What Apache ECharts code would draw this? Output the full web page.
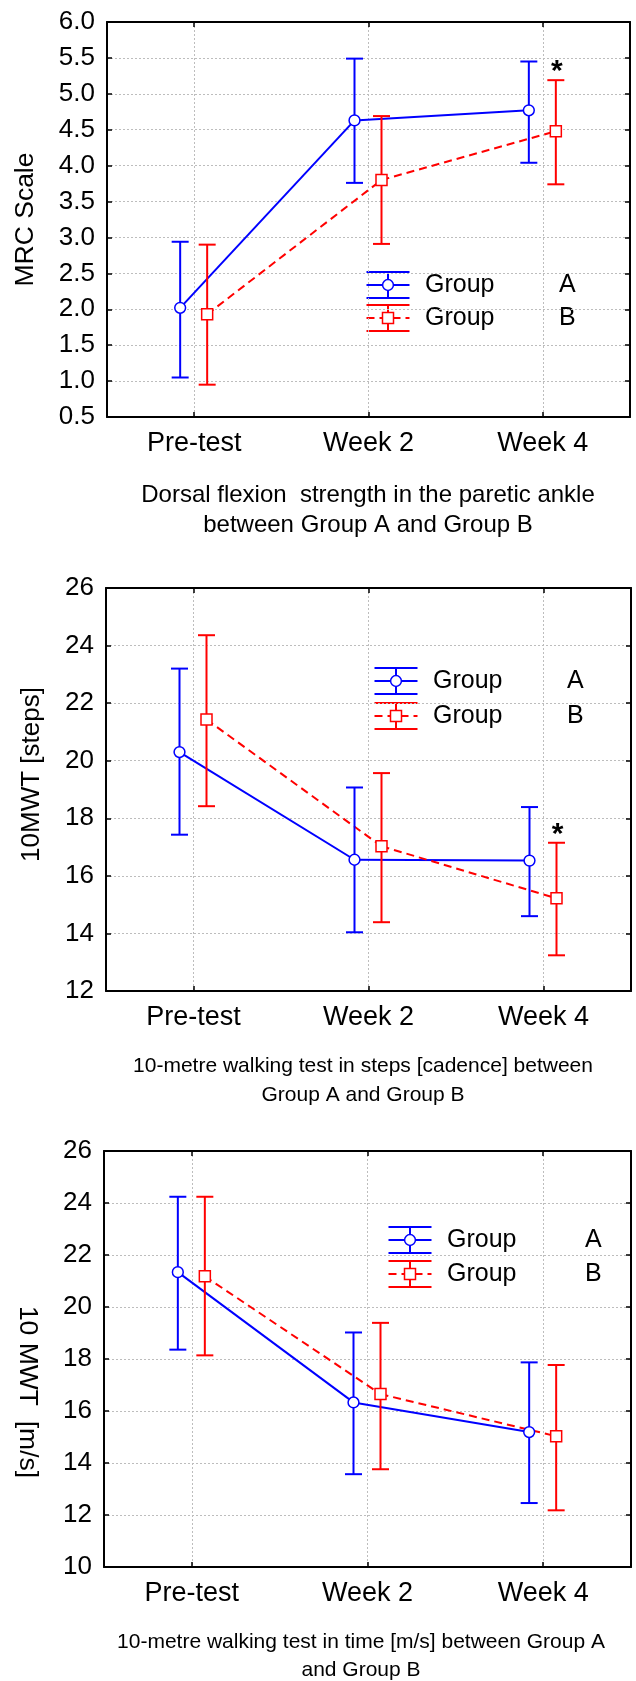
<!DOCTYPE html>
<html>
<head>
<meta charset="utf-8">
<script src="https://cdn.jsdelivr.net/npm/echarts@6/dist/echarts.min.js"></script>
<style>
    html, body { margin: 0; padding: 0; background: #fff; }
    #chart { width: 636px; height: 1681px; }
</style>
</head>
<body>
<div id="chart"></div>
<script>
// Categories shared by the three panels
const categories = ['Pre-test', 'Week 2', 'Week 4'];

// Panel 1 - dorsal flexion strength (MRC scale)
const mrcMeanA = [2.02, 4.63, 4.77];
const mrcLowA = [1.05, 3.76, 4.04];
const mrcHighA = [2.94, 5.49, 5.45];
const mrcMeanB = [1.93, 3.80, 4.48];
const mrcLowB = [0.95, 2.91, 3.74];
const mrcHighB = [2.90, 4.69, 5.19];
const mrcSignif = ['', '', '*'];

// Panel 2 - 10MWT in steps
const stepsMeanA = [20.30, 16.56, 16.53];
const stepsLowA = [17.43, 14.04, 14.60];
const stepsHighA = [23.20, 19.07, 18.39];
const stepsMeanB = [21.43, 17.03, 15.22];
const stepsLowB = [18.42, 14.39, 13.24];
const stepsHighB = [24.36, 19.57, 17.15];
const stepsSignif = ['', '', '*'];

// Panel 3 - 10MWT in time
const timeMeanA = [21.34, 16.33, 15.19];
const timeLowA = [18.36, 13.57, 12.46];
const timeHighA = [24.24, 19.02, 17.87];
const timeMeanB = [21.18, 16.65, 15.03];
const timeLowB = [18.14, 13.76, 12.18];
const timeHighB = [24.24, 19.39, 17.77];
const timeSignif = ['', '', ''];

const FONT = '"Liberation Sans", Arial, sans-serif';
const BLUE = '#0000ff';
const RED = '#ff0000';

// Drawing style of each group
const styleA = {color: BLUE, offset: -14, dash: null, marker: 'circle'};
const styleB = {color: RED, offset: 13, dash: [8, 5], marker: 'square'};

// Layout of each panel (pixels)
const panels = [
    {
        grid: {left: 107, top: 22, width: 523, height: 395},
        y: {min: 0.5, max: 6, interval: 0.5, decimals: 1},
        name: 'MRC Scale', nameSize: 26.5, nameGap: 68, nameRotate: 90, namePadding: 0,
        title: 'Dorsal flexion  strength in the paretic ankle\nbetween Group A and Group B',
        titleX: 368, titleY: 480, titleSize: 24, titleLine: 30,
        legend: {x: 388, y: 285, dy: 33, textX: 425, letterX: 559},
        A: [mrcMeanA, mrcLowA, mrcHighA], B: [mrcMeanB, mrcLowB, mrcHighB], signif: mrcSignif
    },
    {
        grid: {left: 106, top: 588, width: 525, height: 403},
        y: {min: 12, max: 26, interval: 2, decimals: 0},
        name: '10MWT [steps]', nameSize: 26, nameGap: 61, nameRotate: 90, namePadding: 30,
        title: '10-metre walking test in steps [cadence] between\nGroup A and Group B',
        titleX: 363, titleY: 1052, titleSize: 21, titleLine: 29,
        legend: {x: 396, y: 681, dy: 35, textX: 433, letterX: 567},
        A: [stepsMeanA, stepsLowA, stepsHighA], B: [stepsMeanB, stepsLowB, stepsHighB], signif: stepsSignif
    },
    {
        grid: {left: 104, top: 1151, width: 527, height: 416},
        y: {min: 10, max: 26, interval: 2, decimals: 0},
        name: '10 MWT  [m/s]', nameSize: 26.5, nameGap: 63, nameRotate: -90, namePadding: 66,
        title: '10-metre walking test in time [m/s] between Group A\nand Group B',
        titleX: 361, titleY: 1628, titleSize: 21, titleLine: 28,
        legend: {x: 410, y: 1240, dy: 34, textX: 447, letterX: 585},
        A: [timeMeanA, timeLowA, timeHighA], B: [timeMeanB, timeLowB, timeHighB], signif: timeSignif
    }
];

// Draws the marker of a group around a point
const markerShape = (style, cx, cy) => {
    if (style.marker === 'circle') {
        return {
            type: 'circle', z2: 5,
            shape: {cx: cx, cy: cy, r: 5.4},
            style: {fill: '#fff', stroke: style.color, lineWidth: 1.5}
        };
    }
    return {
        type: 'rect', z2: 5,
        shape: {x: cx - 5.5, y: cy - 5.5, width: 11, height: 11},
        style: {fill: '#fff', stroke: style.color, lineWidth: 1.5}
    };
};

// Custom series: means with error bars, joined by a line
const groupSeries = (index, values, style, signif) => {
    const [means, lows, highs] = values;
    return {
        type: 'custom',
        xAxisIndex: index * 2,
        yAxisIndex: index * 2,
        data: means.map((m, i) => [i, m, lows[i], highs[i]]),
        encode: {x: 0, y: [1, 2, 3]},
        renderItem: (params, api) => {
            const i = api.value(0);
            const p = api.coord([i, api.value(1)]);
            const lo = api.coord([i, api.value(2)]);
            const hi = api.coord([i, api.value(3)]);
            const x = p[0] + style.offset;
            const bar = {stroke: style.color, lineWidth: 2};
            const children = [];
            // Segment from the previous mean
            if (i > 0) {
                const q = api.coord([i - 1, means[i - 1]]);
                children.push({
                    type: 'line', z2: 1,
                    shape: {x1: q[0] + style.offset, y1: q[1], x2: x, y2: p[1]},
                    style: {stroke: style.color, lineWidth: 2, lineDash: style.dash}
                });
            }
            // Error bar
            children.push({type: 'line', z2: 3, shape: {x1: x, y1: hi[1], x2: x, y2: lo[1]}, style: bar});
            children.push({type: 'line', z2: 3, shape: {x1: x - 8.5, y1: hi[1], x2: x + 8.5, y2: hi[1]}, style: bar});
            children.push({type: 'line', z2: 3, shape: {x1: x - 8.5, y1: lo[1], x2: x + 8.5, y2: lo[1]}, style: bar});
            // Mean
            children.push(markerShape(style, x, p[1]));
            // Significance mark
            if (signif && signif[i]) {
                children.push({
                    type: 'text', z2: 6,
                    style: {
                        text: signif[i], x: x + 1, y: hi[1] - 8,
                        align: 'center', verticalAlign: 'middle',
                        fontSize: 30, fontWeight: 'bold', fontFamily: FONT, fill: '#000'
                    }
                });
            }
            return {type: 'group', children: children};
        }
    };
};

// Legend entry: error bar icon + label
const legendEntry = (style, cx, cy, textX, letterX, letter) => {
    const bar = {stroke: style.color, lineWidth: 2};
    return [
        {type: 'line', shape: {x1: cx - 21.5, y1: cy - 13, x2: cx + 21.5, y2: cy - 13}, style: bar},
        {type: 'line', shape: {x1: cx - 21.5, y1: cy + 13, x2: cx + 21.5, y2: cy + 13}, style: bar},
        {type: 'line', shape: {x1: cx, y1: cy - 13, x2: cx, y2: cy + 13}, style: bar},
        {type: 'line', shape: {x1: cx - 21.5, y1: cy, x2: cx + 21.5, y2: cy},
            style: {stroke: style.color, lineWidth: 2, lineDash: style.dash}},
        Object.assign(markerShape(style, cx, cy), {z: 101}),
        {type: 'text', style: {text: 'Group', x: textX, y: cy, verticalAlign: 'middle', fontSize: 25, fontFamily: FONT, fill: '#000'}},
        {type: 'text', style: {text: letter, x: letterX, y: cy, verticalAlign: 'middle', fontSize: 25, fontFamily: FONT, fill: '#000'}}
    ];
};

const grids = [];
const xAxes = [];
const yAxes = [];
const series = [];
const titles = [];
let graphics = [];

const frameLine = {show: true, onZero: false, lineStyle: {color: '#000', width: 2}};
const innerTick = {show: true, inside: true, length: 5, alignWithLabel: true, lineStyle: {color: '#000', width: 1.5}};
const gridLine = {show: true, alignWithLabel: true, lineStyle: {color: '#bdbdbd', width: 1, type: [2, 2]}};

panels.forEach((pn, k) => {
    grids.push(Object.assign({containLabel: false}, pn.grid));
    // Bottom and top category axes
    xAxes.push({
        type: 'category', gridIndex: k, data: categories, position: 'bottom', boundaryGap: true,
        axisLine: frameLine, axisTick: innerTick, splitLine: gridLine,
        axisLabel: {color: '#000', fontSize: 27, fontFamily: FONT, margin: 13}
    });
    xAxes.push({
        type: 'category', gridIndex: k, data: categories, position: 'top', boundaryGap: true,
        axisLine: frameLine, axisTick: innerTick, axisLabel: {show: false}, splitLine: {show: false}
    });
    // Left and right value axes
    yAxes.push({
        type: 'value', gridIndex: k, position: 'left',
        min: pn.y.min, max: pn.y.max, interval: pn.y.interval,
        axisLine: frameLine, axisTick: innerTick, splitLine: gridLine,
        axisLabel: {
            color: '#000', fontSize: 26, fontFamily: FONT, margin: 12,
            formatter: (v) => v.toFixed(pn.y.decimals)
        },
        name: pn.name, nameLocation: 'middle', nameGap: pn.nameGap, nameRotate: pn.nameRotate,
        nameTextStyle: {color: '#000', fontSize: pn.nameSize, fontFamily: FONT, padding: [0, 0, 0, pn.namePadding]}
    });
    yAxes.push({
        type: 'value', gridIndex: k, position: 'right',
        min: pn.y.min, max: pn.y.max, interval: pn.y.interval,
        axisLine: frameLine, axisTick: innerTick, axisLabel: {show: false}, splitLine: {show: false}
    });
    series.push(groupSeries(k, pn.A, styleA, null));
    series.push(groupSeries(k, pn.B, styleB, pn.signif));
    titles.push({
        text: pn.title, left: pn.titleX, top: pn.titleY, textAlign: 'center', padding: 0,
        textStyle: {color: '#000', fontSize: pn.titleSize, fontWeight: 'normal', fontFamily: FONT, lineHeight: pn.titleLine}
    });
    const lg = pn.legend;
    graphics = graphics.concat(legendEntry(styleA, lg.x, lg.y, lg.textX, lg.letterX, 'A'));
    graphics = graphics.concat(legendEntry(styleB, lg.x, lg.y + lg.dy, lg.textX, lg.letterX, 'B'));
});

const chart = echarts.init(document.getElementById('chart'));
chart.setOption({
    animation: false,
    backgroundColor: '#fff',
    textStyle: {fontFamily: FONT},
    title: titles,
    grid: grids,
    xAxis: xAxes,
    yAxis: yAxes,
    series: series,
    graphic: graphics
});
</script>
</body>
</html>
